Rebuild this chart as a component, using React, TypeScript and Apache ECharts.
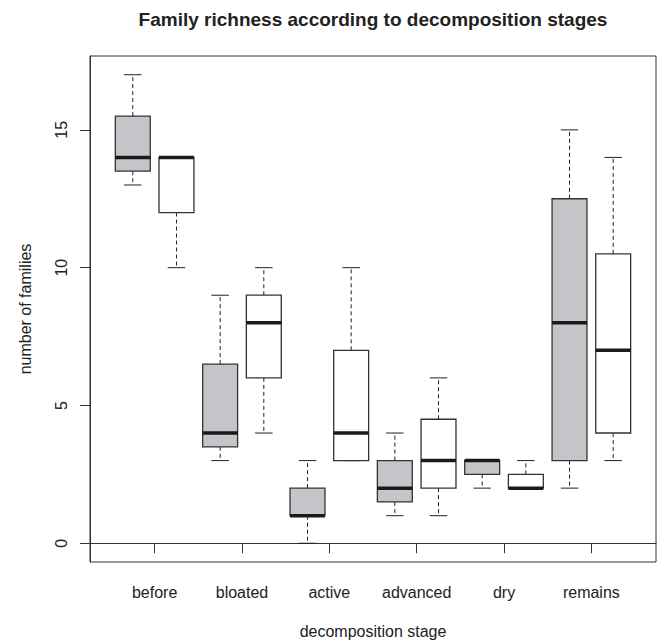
import React, { useEffect, useRef } from "react";
import * as echarts from "echarts";

const stages = ["before", "bloated", "active", "advanced", "dry", "remains"];
// per stage: [min, q1, median, q3, max]
const greyBoxes = [
  [13, 13.5, 14, 15.5, 17],
  [3, 3.5, 4, 6.5, 9],
  [0, 1, 1, 2, 3],
  [1, 1.5, 2, 3, 4],
  [2, 2.5, 3, 3, 3],
  [2, 3, 8, 12.5, 15],
];
const whiteBoxes = [
  [10, 12, 14, 14, 14],
  [4, 6, 8, 9, 10],
  [3, 3, 4, 7, 10],
  [1, 2, 3, 4.5, 6],
  [2, 2, 2, 2.5, 3],
  [3, 4, 7, 10.5, 14],
];
const yTicks = [0, 5, 10, 15];
const stageTicks = stages.map((_, i) => 2 * i + 1.5);

const FONT = "'Liberation Sans', Arial, Helvetica, sans-serif";
const GREY = "#c4c5c8";
const LINE = "#333333";

export default function App() {
  const ref = useRef<HTMLDivElement>(null);
  useEffect(() => {
    document.body.style.margin = "0";
    const chart = echarts.init(ref.current!, null, { renderer: "svg" });
    const data = greyBoxes.flatMap((g, i) => [
      [2 * i + 1, ...g, 0],
      [2 * i + 2, ...whiteBoxes[i], 1],
    ]);
    chart.setOption({
      animation: false,
      backgroundColor: "#ffffff",
      graphic: [
        {
          type: "text",
          x: 373,
          y: 19,
          style: {
            text: "Family richness according to decomposition stages",
            font: `bold 19px ${FONT}`,
            fill: "#222",
            align: "center",
            verticalAlign: "middle",
          },
        },
      ],
      grid: {
        left: 90,
        right: 9,
        top: 56,
        bottom: 81,
        show: true,
        borderColor: LINE,
        borderWidth: 1,
        backgroundColor: "transparent",
        containLabel: false,
      },
      xAxis: {
        type: "value",
        min: 0.02,
        max: 12.98,
        splitLine: { show: false },
        axisLine: { show: true, lineStyle: { color: LINE, width: 1 } },
        axisTick: {
          show: true,
          inside: false,
          length: 10,
          customValues: stageTicks,
          lineStyle: { color: LINE, width: 1 },
        },
        axisLabel: {
          customValues: stageTicks,
          formatter: (v: number) => stages[Math.round((v - 1.5) / 2)] ?? "",
          fontFamily: FONT,
          fontSize: 16,
          color: "#222",
          margin: 22,
        },
        name: "decomposition stage",
        nameLocation: "middle",
        nameGap: 61,
        nameTextStyle: { fontFamily: FONT, fontSize: 16, color: "#222" },
      },
      yAxis: {
        type: "value",
        min: -0.68,
        max: 17.68,
        splitLine: { show: false },
        axisLine: { show: true, lineStyle: { color: LINE, width: 1 } },
        axisTick: {
          show: true,
          inside: false,
          length: 10,
          customValues: yTicks,
          lineStyle: { color: LINE, width: 1 },
        },
        axisLabel: {
          customValues: yTicks,
          rotate: 90,
          fontFamily: FONT,
          fontSize: 16,
          color: "#222",
          margin: 21,
        },
        name: "number of families",
        nameLocation: "middle",
        nameRotate: 90,
        nameGap: 57,
        nameTextStyle: { fontFamily: FONT, fontSize: 16, color: "#222" },
      },
      series: [
        {
          type: "custom",
          data,
          encode: { x: 0, y: [1, 2, 3, 4, 5] },
          renderItem: (params: any, api: any) => {
            const x = api.value(0);
            const mn = api.value(1);
            const q1 = api.value(2);
            const md = api.value(3);
            const q3 = api.value(4);
            const mx = api.value(5);
            const fill = api.value(6) === 0 ? GREY : "#ffffff";
            const halfBox = api.size([0.4, 0])[0];
            const halfCap = api.size([0.2, 0])[0];
            const cx = api.coord([x, md])[0];
            const y = (v: number) => api.coord([x, v])[1];
            const children: any[] = [];
            const dash = { stroke: "#222", lineWidth: 1, lineDash: [4, 3] };
            const solid = { stroke: "#222", lineWidth: 1 };
            if (mx > q3) {
              children.push({
                type: "line",
                shape: { x1: cx, y1: y(q3), x2: cx, y2: y(mx) },
                style: dash,
              });
            }
            if (mn < q1) {
              children.push({
                type: "line",
                shape: { x1: cx, y1: y(q1), x2: cx, y2: y(mn) },
                style: dash,
              });
            }
            children.push({
              type: "line",
              shape: { x1: cx - halfCap, y1: y(mx), x2: cx + halfCap, y2: y(mx) },
              style: solid,
            });
            children.push({
              type: "line",
              shape: { x1: cx - halfCap, y1: y(mn), x2: cx + halfCap, y2: y(mn) },
              style: solid,
            });
            children.push({
              type: "rect",
              shape: {
                x: cx - halfBox,
                y: y(q3),
                width: 2 * halfBox,
                height: y(q1) - y(q3),
              },
              style: { fill, stroke: LINE, lineWidth: 1.3 },
            });
            children.push({
              type: "line",
              shape: { x1: cx - halfBox, y1: y(md), x2: cx + halfBox, y2: y(md) },
              style: { stroke: "#1a1a1a", lineWidth: 3.5 },
            });
            return { type: "group", children };
          },
        },
      ],
    });
    return () => chart.dispose();
  }, []);
  return <div ref={ref} style={{ width: 665, height: 644 }} />;
}
